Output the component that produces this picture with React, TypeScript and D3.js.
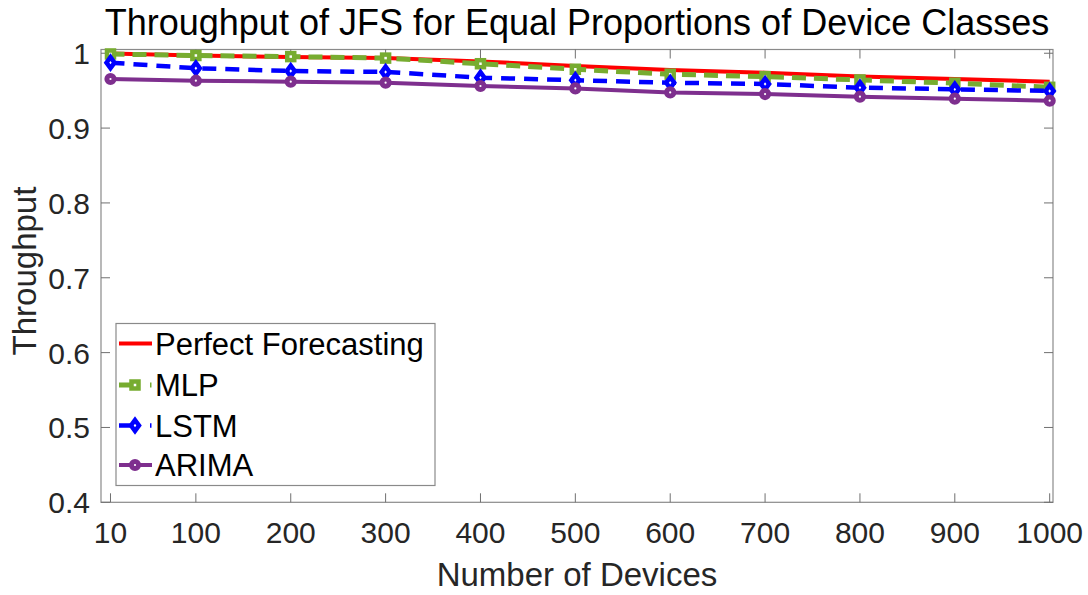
import React, { useEffect, useRef } from 'react';
import * as d3 from 'd3';

const devices = [10, 100, 200, 300, 400, 500, 600, 700, 800, 900, 1000];
const xTicks = [10, 100, 200, 300, 400, 500, 600, 700, 800, 900, 1000];
const yTicks = [0.4, 0.5, 0.6, 0.7, 0.8, 0.9, 1];

const perfect = [0.9995, 0.997, 0.995, 0.9935, 0.989, 0.983, 0.9776, 0.974, 0.969, 0.9656, 0.962];
const mlp = [0.999, 0.997, 0.9955, 0.9935, 0.986, 0.9786, 0.972, 0.9687, 0.9643, 0.96, 0.9545];
const lstm = [0.9874, 0.98, 0.9763, 0.975, 0.9674, 0.964, 0.9606, 0.9589, 0.954, 0.9518, 0.9496];
const arima = [0.9656, 0.9633, 0.962, 0.9607, 0.9562, 0.953, 0.9477, 0.9455, 0.942, 0.9393, 0.9366];

const seriesNames = ['Perfect Forecasting', 'MLP', 'LSTM', 'ARIMA'];

const W = 1088;
const H = 595;
const FONT = 'Liberation Sans, Arial, sans-serif';

const App = () => {
  const svgRef = useRef<SVGSVGElement | null>(null);

  useEffect(() => {
    const svg = d3.select(svgRef.current);
    svg.selectAll('*').remove(); // redraw from scratch

    const left = 101, right = 1053, top = 49.5, bottom = 502.3;

    const x = d3.scaleLinear().domain([0, 1003.5]).range([left, right]);
    const y = d3.scaleLinear().domain([0.4, 1.005]).range([bottom, top]);

    const series = [
      { name: seriesNames[0], values: perfect, color: '#ff0000', width: 4, dash: null, marker: null },
      { name: seriesNames[1], values: mlp, color: '#77ac30', width: 5, dash: '14 8', marker: 'square' },
      { name: seriesNames[2], values: lstm, color: '#0000ff', width: 4.5, dash: '14 9', marker: 'diamond' },
      { name: seriesNames[3], values: arima, color: '#7e2f8e', width: 4, dash: null, marker: 'circle' },
    ];

    // axes box
    svg.append('rect')
      .attr('x', left).attr('y', top)
      .attr('width', right - left).attr('height', bottom - top)
      .attr('fill', 'white').attr('stroke', '#8a8a8a').attr('stroke-width', 1.2);

    const tickLen = 9;
    const tickColor = '#707070';

    // x ticks, bottom + top
    const xt = svg.append('g');
    xTicks.forEach(t => {
      xt.append('line').attr('x1', x(t)).attr('x2', x(t)).attr('y1', bottom).attr('y2', bottom - tickLen)
        .attr('stroke', tickColor).attr('stroke-width', 1);
      xt.append('line').attr('x1', x(t)).attr('x2', x(t)).attr('y1', top).attr('y2', top + tickLen)
        .attr('stroke', tickColor).attr('stroke-width', 1);
      xt.append('text').attr('x', x(t)).attr('y', 543)
        .attr('text-anchor', 'middle').attr('font-family', FONT).attr('font-size', 30)
        .attr('fill', '#262626').text(d3.format('d')(t));
    });

    // y ticks, left + right
    const yt = svg.append('g');
    yTicks.forEach(t => {
      yt.append('line').attr('x1', left).attr('x2', left + tickLen).attr('y1', y(t)).attr('y2', y(t))
        .attr('stroke', tickColor).attr('stroke-width', 1);
      yt.append('line').attr('x1', right).attr('x2', right - tickLen).attr('y1', y(t)).attr('y2', y(t))
        .attr('stroke', tickColor).attr('stroke-width', 1);
      yt.append('text').attr('x', 90).attr('y', y(t) + 11)
        .attr('text-anchor', 'end').attr('font-family', FONT).attr('font-size', 30)
        .attr('fill', '#262626').text(t === 1 ? '1' : d3.format('.1f')(t));
    });

    const line = d3.line<number>()
      .x((_, i) => x(devices[i]))
      .y(d => y(d));

    const drawMarker = (g: any, kind: string | null, cx: number, cy: number, color: string) => {
      if (kind === 'square') {
        g.append('rect').attr('x', cx - 3.5).attr('y', cy - 3.5).attr('width', 7).attr('height', 7)
          .attr('fill', 'white').attr('stroke', color).attr('stroke-width', 4.5);
      } else if (kind === 'diamond') {
        g.append('path')
          .attr('d', `M${cx},${cy - 5.5}L${cx + 4},${cy}L${cx},${cy + 5.5}L${cx - 4},${cy}Z`)
          .attr('fill', 'white').attr('stroke', color).attr('stroke-width', 4.5);
      } else if (kind === 'circle') {
        g.append('circle').attr('cx', cx).attr('cy', cy).attr('r', 3.6)
          .attr('fill', 'white').attr('stroke', color).attr('stroke-width', 5);
      }
    };

    const plot = svg.append('g');
    series.forEach(s => {
      plot.append('path')
        .datum(s.values)
        .attr('d', line)
        .attr('fill', 'none')
        .attr('stroke', s.color)
        .attr('stroke-width', s.width)
        .attr('stroke-dasharray', s.dash)
        .attr('stroke-linejoin', 'round');
      s.values.forEach((v, i) => drawMarker(plot, s.marker, x(devices[i]), y(v), s.color));
    });

    // legend
    const lg = svg.append('g');
    lg.append('rect').attr('x', 116).attr('y', 323.5).attr('width', 319).attr('height', 162)
      .attr('fill', 'white').attr('stroke', '#8a8a8a').attr('stroke-width', 1.2);
    const rowY = [343.5, 385, 425.5, 465];
    series.forEach((s, i) => {
      lg.append('line').attr('x1', 119).attr('x2', 152).attr('y1', rowY[i]).attr('y2', rowY[i])
        .attr('stroke', s.color).attr('stroke-width', s.width)
        .attr('stroke-dasharray', s.dash ? '14 17 1.5 30' : null);
      drawMarker(lg, s.marker, 135, rowY[i], s.color);
      lg.append('text').attr('x', 155).attr('y', rowY[i] + 11)
        .attr('font-family', FONT).attr('font-size', 31).attr('fill', '#000')
        .text(s.name);
    });

    // title and axis labels
    svg.append('text').attr('x', 577).attr('y', 35)
      .attr('text-anchor', 'middle').attr('font-family', FONT).attr('font-size', 36)
      .attr('fill', '#000').text('Throughput of JFS for Equal Proportions of Device Classes');
    svg.append('text').attr('x', 577).attr('y', 586)
      .attr('text-anchor', 'middle').attr('font-family', FONT).attr('font-size', 33)
      .attr('fill', '#262626').text('Number of Devices');
    svg.append('text').attr('transform', 'translate(36,271) rotate(-90)')
      .attr('text-anchor', 'middle').attr('font-family', FONT).attr('font-size', 33)
      .attr('fill', '#262626').text('Throughput');
  }, []);

  return (
    <svg ref={svgRef} width={W} height={H}
      style={{ position: 'absolute', left: 0, top: 0, background: 'white' }} />
  );
};

export default App;
